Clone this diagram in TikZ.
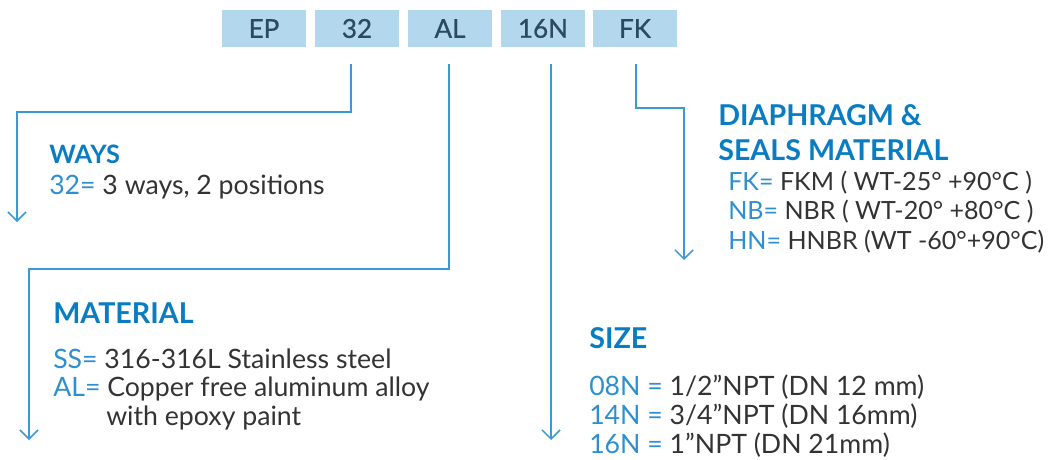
\documentclass[tikz,border=0pt]{standalone}
\usepackage{fontspec}
\setmainfont{Lato}
\newfontfamily\medfont{Lato}[FakeBold=0.8]
\usetikzlibrary{arrows.meta}
\definecolor{boxblue}{HTML}{B3D7EC}
\definecolor{codetext}{HTML}{2B4A60}
\definecolor{leadblue}{HTML}{3A9AD9}
\definecolor{headblue}{HTML}{0A7DC2}
\definecolor{codeblue}{HTML}{2E8FD0}
\definecolor{bodygray}{HTML}{333333}
\newcommand{\cd}[1]{\textcolor{codeblue}{#1}}

\begin{document}
\begin{tikzpicture}[x=0.75pt,y=-0.75pt,
 codebox/.style={fill=boxblue,minimum width=63pt,minimum height=27.75pt,inner sep=0pt,text=codetext,font=\medfont\fontsize{19.5}{19.5}\selectfont},
 lead/.style={draw=leadblue,line width=1.1pt,-{Straight Barb[length=6.75pt,width=13.5pt]}},
 head/.style={anchor=base west,inner sep=0pt,text=headblue,font=\bfseries\fontsize{21.5}{21.5}\selectfont},
 item/.style={anchor=base west,inner sep=0pt,text=bodygray,font=\fontsize{20}{20}\selectfont},
 tight/.style={font=\fontsize{18.8}{18.8}\selectfont}]
 \useasboundingbox (0,0) rectangle (1050,460);
 % code boxes
 \node[codebox] (ep) at (264,28.5) {EP};
 \node[codebox] (ways) at (357,28.5) {32};
 \node[codebox] (mat) at (450,28.5) {AL};
 \node[codebox] (size) at (543,28.5) {16N};
 \node[codebox] (seal) at (635,28.5) {FK};
 % leads
 \coordinate (w1) at (351,64); \coordinate (w2) at (17,222);
 \coordinate (m1) at (449,64); \coordinate (m2) at (29,440);
 \coordinate (s1) at (551,64); \coordinate (s2) at (551,440);
 \coordinate (f1) at (636,64); \coordinate (f2) at (684,260);
 \draw[lead] (w1) |- (17,112) -- (w2);
 \draw[lead] (m1) |- (29,269) -- (m2);
 \draw[lead] (s1) -- (s2);
 \draw[lead] (f1) |- (684,108) -- (f2);
 % ways
 \node[head,font=\bfseries\fontsize{19}{19}\selectfont] (wayshd) at (49,163) {WAYS};
 \node[item] (ways32) at (49,194) {\cd{32=} 3 ways, 2 positions};
 % material
 \node[head] (mathd) at (53,323) {MATERIAL};
 \node[item] (matss) at (53,368) {\cd{SS=} 316-316L Stainless steel};
 \node[item] (matal) at (53,396) {\cd{AL=} Copper free aluminum alloy};
 \node[item] (matal2) at (106,425) {with epoxy paint};
 % diaphragm and seals
 \node[head] (sealhd) at (718,126) {DIAPHRAGM \&};
 \node[head] (sealhd2) at (718,161) {SEALS MATERIAL};
 \node[item,tight] (sealfk) at (728,190) {\cd{FK=} FKM ( WT-25° +90°C )};
 \node[item,tight] (sealnb) at (728,219) {\cd{NB=} NBR ( WT-20° +80°C )};
 \node[item,tight] (sealhn) at (728,249) {\cd{HN=} HNBR (WT -60°+90°C)};
 % size
 \node[head] (sizehd) at (589,348) {SIZE};
 \node[item] (size08) at (589,395) {\cd{08N =} 1/2”NPT (DN 12 mm)};
 \node[item] (size14) at (589,424) {\cd{14N =} 3/4”NPT (DN 16mm)};
 \node[item] (size16) at (589,453) {\cd{16N =} 1”NPT (DN 21mm)};
\end{tikzpicture}
\end{document}
